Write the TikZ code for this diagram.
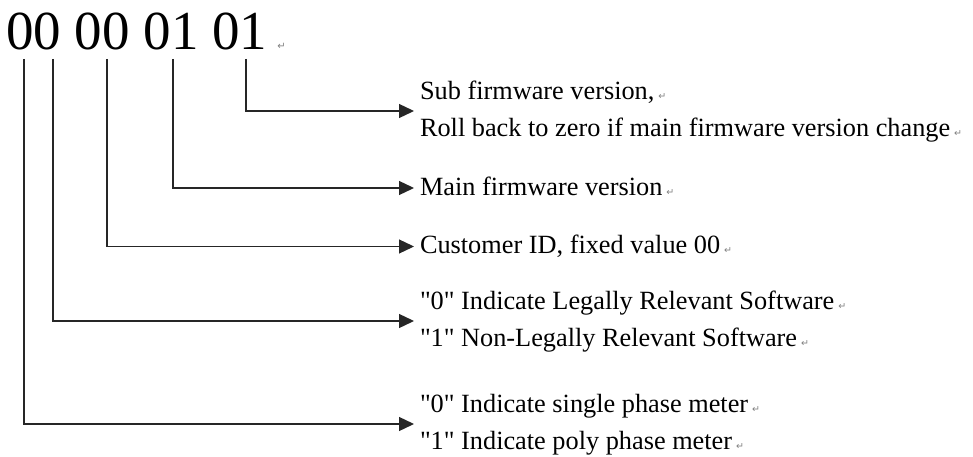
\documentclass[tikz,border=0pt]{standalone}
\usepackage{fontspec}
\setmainfont{Liberation Serif}
\newfontfamily\symfont{DejaVu Sans}
\usetikzlibrary{arrows.meta}
\newcommand\lstr{\rule[-6pt]{0pt}{26pt}}
\newcommand\dq{\XeTeXglyph\XeTeXcharglyph"22\relax}
\newcommand\retm{\hspace{4pt}{\symfont\fontsize{9.5}{9.5}\selectfont\textcolor{black!50}{↵}}}
\begin{document}
\begin{tikzpicture}[x=1pt,y=-1pt,
  lbl/.style={inner xsep=6pt, inner ysep=0pt, outer sep=0pt, anchor=west, align=left,
              font=\fontsize{26.3}{37.5}\selectfont},
  conn/.style={line width=1.3pt, draw=black!85, -{Triangle[length=15pt,width=14pt]}}]
\useasboundingbox (0,0) rectangle (973,457);
\node[inner sep=0, anchor=base west, font=\fontsize{55}{55}\selectfont] (num) at (6,50)
  {00 00 01 01\hspace{10pt}{\symfont\fontsize{10}{10}\selectfont\textcolor{black!50}{↵}}};
\coordinate (c1) at (24,59);
\coordinate (c2) at (53,59);
\coordinate (c3) at (107,59);
\coordinate (c4) at (173,59);
\coordinate (c5) at (246,59);
\node[lbl] (t1) at (414,111) {\lstr Sub firmware version,\retm\\\lstr Roll back to zero if main firmware version change\retm};
\node[lbl] (t2) at (414,188) {\lstr Main firmware version\retm};
\node[lbl] (t3) at (414,246.5) {\lstr Customer ID, fixed value 00\retm};
\node[lbl] (t4) at (414,321) {\lstr \dq0\dq{} Indicate Legally Relevant Software\retm\\\lstr \dq1\dq{} Non-Legally Relevant Software\retm};
\node[lbl] (t5) at (414,424) {\lstr \dq0\dq{} Indicate single phase meter\retm\\\lstr \dq1\dq{} Indicate poly phase meter\retm};
\draw[conn] (c5) |- (t1.west);
\draw[conn] (c4) |- (t2.west);
\draw[conn] (c3) |- (t3.west);
\draw[conn] (c2) |- (t4.west);
\draw[conn] (c1) |- (t5.west);
\end{tikzpicture}
\end{document}
